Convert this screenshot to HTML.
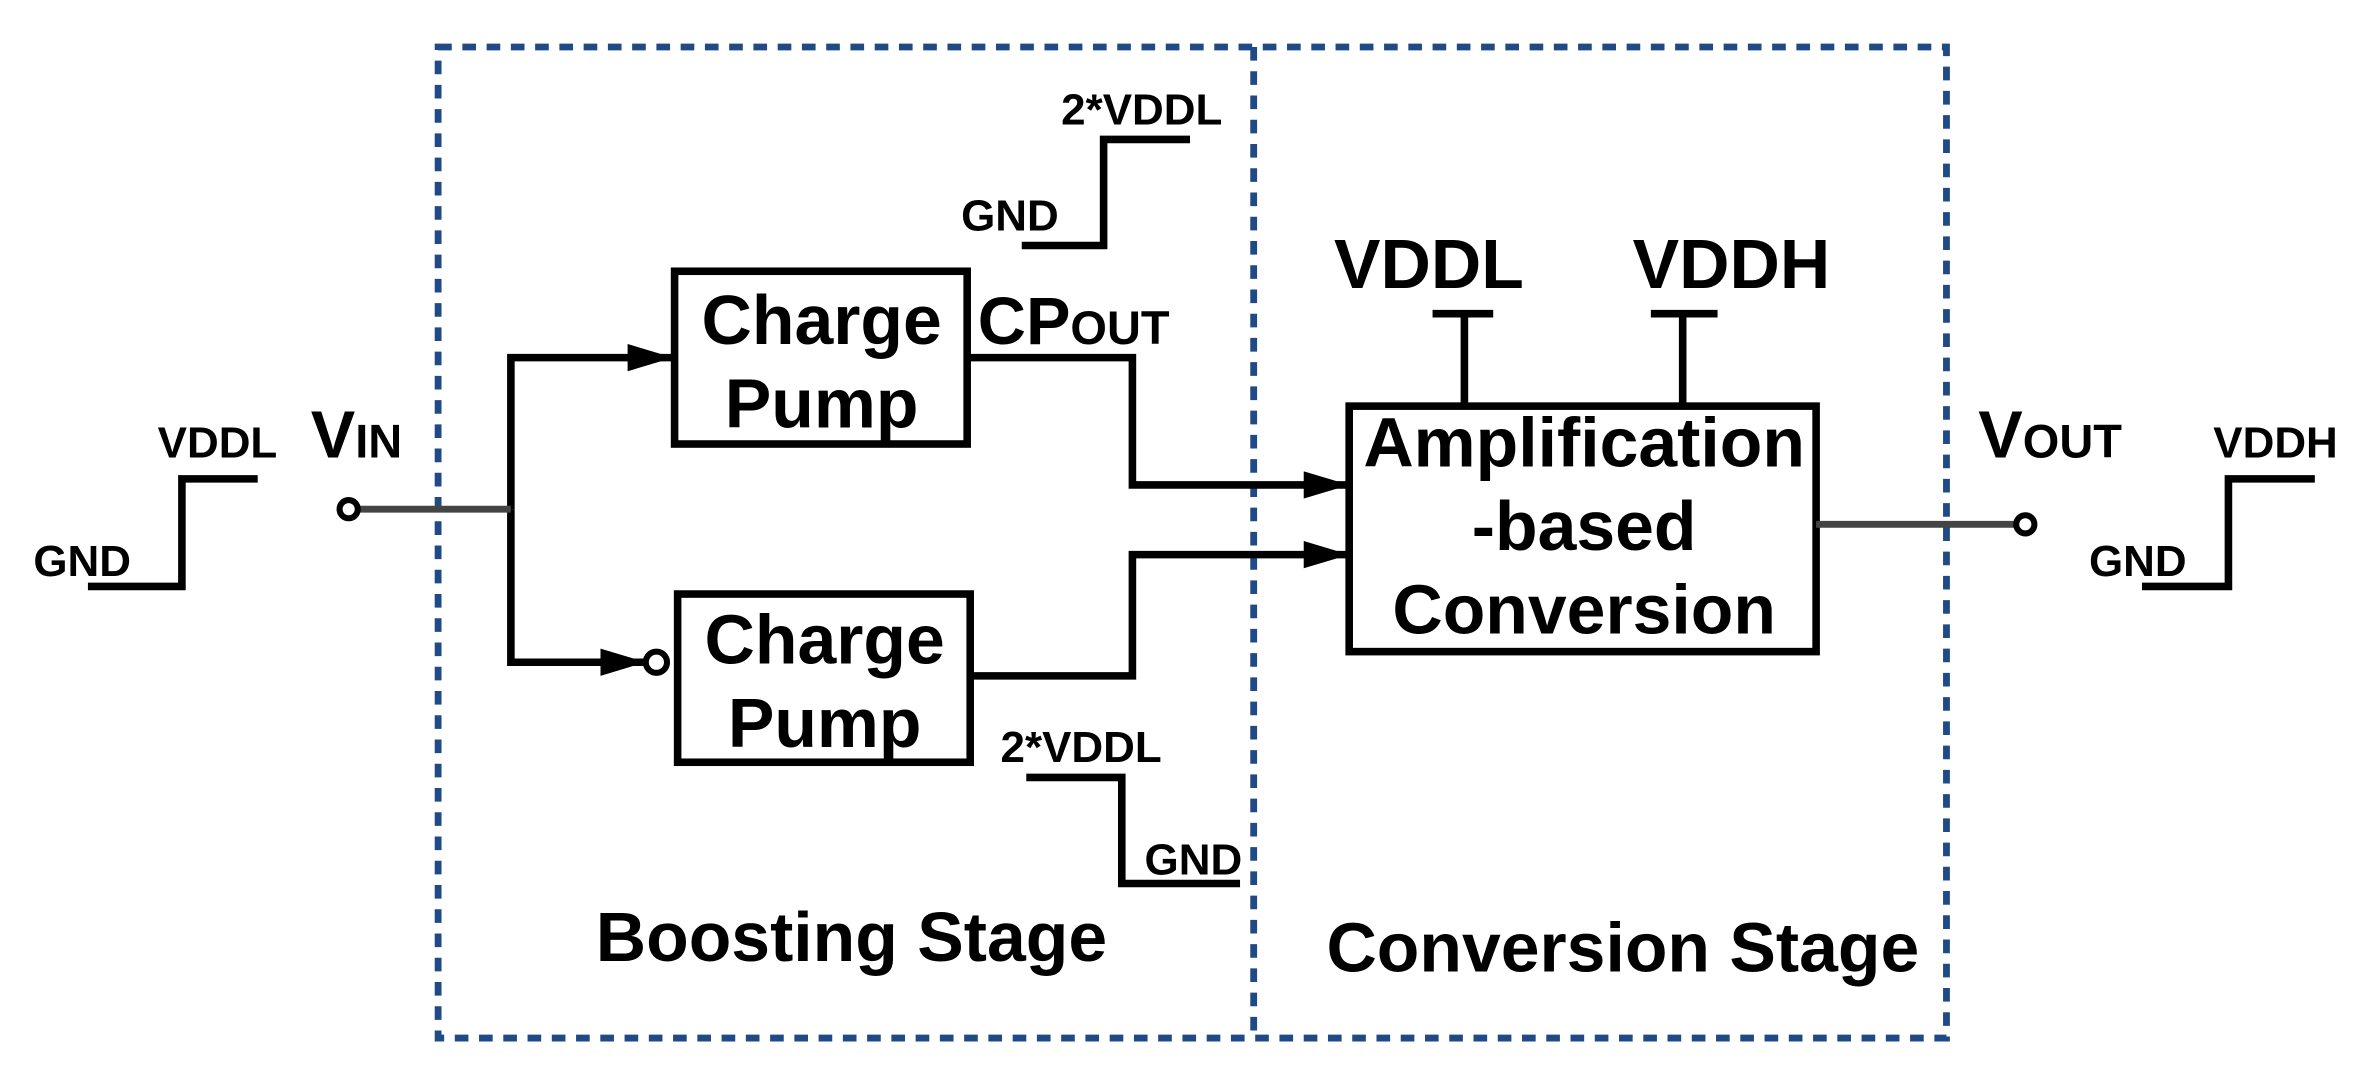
<!DOCTYPE html>
<html><head><meta charset="utf-8"><style>html,body{margin:0;padding:0;background:#fff;}svg{display:block;}</style></head>
<body>
<svg width="2377" height="1082" viewBox="0 0 1568 714" preserveAspectRatio="none" xmlns="http://www.w3.org/2000/svg" font-family="Liberation Sans, sans-serif" font-weight="bold">
<defs>
<marker id="b" markerWidth="30" markerHeight="18" refX="30" refY="9" orient="auto" markerUnits="userSpaceOnUse"><path d="M0,0 L30,9 L0,18z" fill="#000"/></marker></defs>
<g fill="none" stroke="#1f4a85" stroke-width="4.5" stroke-dasharray="9,7">
<rect x="289" y="31" width="995" height="654"/>
<line x1="827" y1="31" x2="827" y2="685"/>
</g>
<g fill="none" stroke="#000" stroke-width="5">
<polyline points="58,387 120,387 120,316 170,316"/>
<polyline points="1413,387 1470,387 1470,316 1527,316"/>
<polyline points="674,162 728,162 728,92 785,92"/>
<polyline points="677,513 740,513 740,583 818,583"/>
<polyline points="337,336 337,236 444,236" marker-end="url(#b)"/>
<polyline points="337,336 337,437 426,437" marker-end="url(#b)"/>
<circle cx="433" cy="437" r="7" stroke-width="4"/>
<rect x="445" y="179" width="193" height="114"/>
<rect x="447" y="392" width="193" height="111"/>
<polyline points="638,236 747,236 747,320 890,320" marker-end="url(#b)"/>
<polyline points="640,446 747,446 747,366 890,366" marker-end="url(#b)"/>
<rect x="890" y="268" width="308" height="162"/>
<line x1="966" y1="207" x2="966" y2="268"/><line x1="945" y1="207" x2="985" y2="207"/>
<line x1="1110" y1="207" x2="1110" y2="268"/><line x1="1089" y1="207" x2="1133" y2="207"/>
</g>
<g stroke="#444" stroke-width="4.5"><line x1="236" y1="336" x2="337" y2="336"/><line x1="1198" y1="346" x2="1330" y2="346"/></g>
<g fill="#fff" stroke="#000" stroke-width="4"><circle cx="230" cy="336" r="6"/><circle cx="1336" cy="346" r="6"/></g>
<g fill="#000" font-size="29">
<text x="22" y="380">GND</text><text x="104" y="302">VDDL</text>
<text x="1378" y="380">GND</text><text x="1460" y="302">VDDH</text>
<text x="700" y="82">2*VDDL</text><text x="634" y="152">GND</text>
<text x="660" y="503">2*VDDL</text><text x="755" y="577">GND</text>
</g>
<g fill="#000">
<text x="205" y="302" font-size="44">V<tspan font-size="31">IN</tspan></text>
<text x="1305" y="302" font-size="44">V<tspan font-size="31">OUT</tspan></text>
<text x="645" y="227" font-size="44">CP<tspan font-size="31">OUT</tspan></text>
<text x="880" y="190" font-size="46">VDDL</text><text x="1077" y="190" font-size="46">VDDH</text>
<g font-size="46" text-anchor="middle">
<text x="542" y="227">Charge</text><text x="542" y="282">Pump</text>
<text x="544" y="438">Charge</text><text x="544" y="493">Pump</text>
<text x="1045" y="308">Amplification</text><text x="1045" y="363">-based</text><text x="1045" y="418">Conversion</text>
</g>
<text x="393" y="634" font-size="46">Boosting Stage</text>
<text x="875" y="641" font-size="46">Conversion Stage</text>
</g>
</svg>
</body></html>
